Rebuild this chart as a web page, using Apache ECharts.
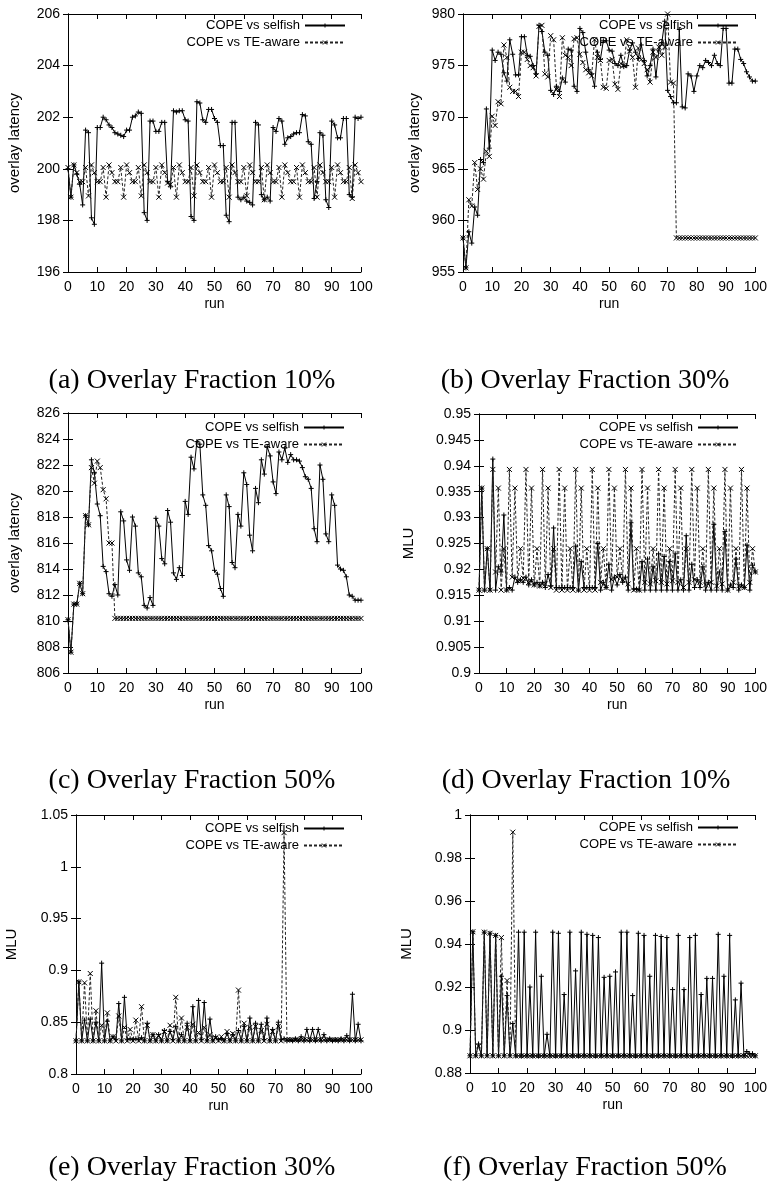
<!DOCTYPE html>
<html>
<head>
<meta charset="utf-8">
<title>COPE vs selfish / TE-aware</title>
<script src="https://cdn.jsdelivr.net/npm/echarts@6/dist/echarts.min.js"></script>
<style>
  html, body { margin: 0; padding: 0; background: #fff; }
  #chart { width: 770px; height: 1196px; }
</style>
</head>
<body>
<div id="chart"></div>
<script>
// x axis: run number 0..100
const runs = Array.from({ length: 101 }, (_, i) => i)
const seriesNames = ['COPE vs selfish', 'COPE vs TE-aware']
const captions = [
  '(a) Overlay Fraction 10%', '(b) Overlay Fraction 30%',
  '(c) Overlay Fraction 50%', '(d) Overlay Fraction 10%',
  '(e) Overlay Fraction 30%', '(f) Overlay Fraction 50%'
]

// (a) overlay latency, fraction 10%
const latency10Selfish = [
  200.0, 198.9, 200.15, 199.8, 199.4, 198.6, 201.5, 201.4, 198.1, 197.85,
  201.6, 201.6, 202.0, 201.9, 201.7, 201.6, 201.4, 201.35, 201.3, 201.25,
  201.5, 201.5, 202.0, 202.05, 202.2, 202.15, 198.3, 198.0, 201.85, 201.85,
  201.45, 201.45, 201.8, 201.8, 199.5, 199.3, 202.25, 202.2, 202.25, 202.25,
  201.9, 201.85, 198.15, 198.0, 202.6, 202.55, 201.9, 201.8, 202.3, 202.3,
  201.95, 201.8, 200.9, 200.9, 198.2, 197.95, 201.8, 201.8, 198.9, 198.8,
  198.9, 198.75, 198.7, 198.6, 201.8, 201.7, 199.0, 198.8, 198.9, 198.75,
  201.6, 201.45, 201.95, 201.85, 200.95, 201.2, 201.25, 201.35, 201.4, 201.4,
  202.1, 202.05, 201.05, 200.95, 198.85, 199.5, 201.4, 201.3, 198.8, 198.5,
  201.85, 201.7, 201.2, 201.2, 201.95, 201.95, 199.0, 198.9, 202.0, 201.95,
  202.0
]
const latency10TeAware = [
  200.05, 198.9, 200.15, 199.85, 199.5, 199.5, 200.05, 198.95, 200.15, 199.85,
  199.5, 199.5, 200.05, 198.9, 200.15, 199.85, 199.5, 199.5, 200.05, 198.9,
  200.15, 199.85, 199.5, 199.5, 200.05, 198.95, 200.15, 199.85, 199.5, 199.5,
  200.05, 198.9, 200.15, 199.85, 199.45, 199.4, 200.05, 198.9, 200.15, 199.85,
  199.5, 199.5, 200.05, 198.95, 200.15, 199.85, 199.5, 199.5, 200.05, 198.9,
  200.15, 199.85, 199.5, 199.5, 200.05, 198.9, 200.15, 199.85, 199.5, 199.5,
  200.05, 198.95, 200.15, 199.85, 199.5, 199.5, 200.05, 198.8, 200.15, 199.85,
  199.5, 199.5, 200.05, 198.9, 200.15, 199.85, 199.5, 199.5, 200.05, 198.9,
  200.15, 199.85, 199.5, 199.5, 200.05, 198.9, 200.15, 199.85, 199.5, 199.5,
  200.05, 198.9, 200.15, 199.85, 199.5, 199.5, 200.05, 198.85, 200.15, 199.85,
  199.5
]

// (b) overlay latency, fraction 30%
const latency30Selfish = [
  958.3, 955.4, 958.9, 957.8, 961.3, 960.5, 965.9, 965.6, 970.8, 967.0,
  976.5, 975.5, 976.3, 976.1, 974.3, 973.5, 977.5, 976.1, 974.1, 974.1,
  977.8, 977.8, 976.0, 975.9, 975.0, 974.2, 978.9, 978.3, 976.3, 976.0,
  972.6, 972.2, 973.0, 972.5, 973.8, 973.4, 976.6, 976.5, 973.0, 972.5,
  978.6, 978.2, 976.3, 974.6, 974.2, 973.0, 976.3, 975.6, 977.4, 977.4,
  976.5, 976.4, 975.2, 975.0, 976.0, 974.9, 975.0, 976.5, 977.2, 976.3,
  975.7, 977.0, 975.5, 974.0, 975.0, 976.6, 973.9, 976.5, 977.2, 979.3,
  972.6, 972.0, 971.4, 971.4, 978.5, 971.0, 970.9, 974.2, 974.0, 972.5,
  974.0, 975.0, 974.8, 975.5, 975.3, 975.0, 976.0, 975.2, 975.0, 978.6,
  978.6, 973.3, 973.3, 976.6, 976.6, 975.6, 975.2, 974.4, 973.9, 973.5,
  973.5
]
const latency30TeAware = [
  958.3, 955.4, 962.0, 961.4, 965.6, 963.0, 965.0, 964.0, 966.7, 966.2,
  970.1, 969.2, 971.5, 971.3, 977.0, 975.8, 972.9, 972.5, 972.5, 972.0,
  976.3, 976.3, 975.6, 975.0, 974.8, 974.0, 978.8, 978.9, 974.2, 973.9,
  977.9, 977.5, 972.7, 972.0, 977.7, 976.0, 975.8, 975.0, 977.6, 977.7,
  976.1, 975.3, 974.6, 974.3, 974.0, 977.5, 975.8, 975.5, 972.9, 972.8,
  975.5, 975.6, 973.2, 972.7, 975.2, 975.0, 977.5, 976.4, 975.8, 972.9,
  976.7, 975.6, 975.2, 974.6, 973.4, 976.3, 975.8, 976.8, 976.0, 976.8,
  980.0, 973.4, 973.3, 958.3, 958.3, 958.3, 958.3, 958.3, 958.3, 958.3,
  958.3, 958.3, 958.3, 958.3, 958.3, 958.3, 958.3, 958.3, 958.3, 958.3,
  958.3, 958.3, 958.3, 958.3, 958.3, 958.3, 958.3, 958.3, 958.3, 958.3,
  958.3
]

// (c) overlay latency, fraction 50%
const latency50Selfish = [
  810.1, 807.6, 811.3, 811.3, 812.9, 812.1, 818.1, 817.4, 822.4, 821.4,
  819.0, 818.1, 814.2, 813.8, 812.1, 811.9, 812.8, 812.0, 818.4, 817.7,
  814.7, 813.9, 818.0, 817.3, 813.7, 813.4, 811.2, 811.0, 811.8, 811.2,
  817.9, 817.3, 814.8, 814.4, 818.5, 817.6, 813.7, 813.2, 814.1, 813.5,
  819.2, 818.2, 822.6, 821.7, 823.8, 823.6, 819.7, 818.9, 815.8, 815.4,
  813.9, 813.6, 812.5, 811.9, 819.7, 818.8, 814.5, 814.1, 818.2, 817.3,
  821.4, 820.5, 816.6, 815.4, 820.2, 819.1, 822.4, 821.3, 823.4, 822.7,
  820.7, 819.8, 823.0, 822.4, 823.3, 822.2, 822.8, 822.4, 822.4, 822.3,
  821.8, 821.1, 820.9, 820.2, 817.1, 816.1, 822.0, 820.9, 816.7, 816.1,
  819.7, 818.9, 814.3, 814.0, 813.9, 813.4, 812.0, 811.9, 811.6, 811.6,
  811.6
]
const latency50TeAware = [
  810.1, 807.6, 811.3, 811.3, 812.9, 812.1, 818.1, 817.4, 821.8, 820.6,
  822.3, 821.8, 820.1, 819.4, 816.0, 816.0, 810.2, 810.2, 810.2, 810.2,
  810.2, 810.2, 810.2, 810.2, 810.2, 810.2, 810.2, 810.2, 810.2, 810.2,
  810.2, 810.2, 810.2, 810.2, 810.2, 810.2, 810.2, 810.2, 810.2, 810.2,
  810.2, 810.2, 810.2, 810.2, 810.2, 810.2, 810.2, 810.2, 810.2, 810.2,
  810.2, 810.2, 810.2, 810.2, 810.2, 810.2, 810.2, 810.2, 810.2, 810.2,
  810.2, 810.2, 810.2, 810.2, 810.2, 810.2, 810.2, 810.2, 810.2, 810.2,
  810.2, 810.2, 810.2, 810.2, 810.2, 810.2, 810.2, 810.2, 810.2, 810.2,
  810.2, 810.2, 810.2, 810.2, 810.2, 810.2, 810.2, 810.2, 810.2, 810.2,
  810.2, 810.2, 810.2, 810.2, 810.2, 810.2, 810.2, 810.2, 810.2, 810.2,
  810.2
]

// (d) MLU, fraction 10%
const mlu10Selfish = [
  0.916, 0.9357, 0.916, 0.924, 0.916, 0.9413, 0.916, 0.9205, 0.9195, 0.9305,
  0.916, 0.9165, 0.916, 0.9185, 0.9175, 0.918, 0.9175, 0.9185, 0.917, 0.918,
  0.917, 0.9175, 0.9168, 0.9175, 0.9165, 0.919, 0.9168, 0.928, 0.9165, 0.9165,
  0.9165, 0.9165, 0.9165, 0.9165, 0.9165, 0.9245, 0.916, 0.9215, 0.9165, 0.9165,
  0.9165, 0.9165, 0.9165, 0.925, 0.916, 0.9175, 0.9165, 0.921, 0.916, 0.9185,
  0.917, 0.919, 0.9175, 0.9185, 0.916, 0.929, 0.9162, 0.9162, 0.916, 0.9215,
  0.916, 0.922, 0.916, 0.9205, 0.916, 0.923, 0.916, 0.9225, 0.916, 0.9215,
  0.916, 0.923, 0.916, 0.918, 0.916, 0.9265, 0.916, 0.921, 0.9165, 0.918,
  0.9165, 0.9205, 0.916, 0.9175, 0.916, 0.9287, 0.916, 0.9195, 0.916, 0.9273,
  0.916, 0.917, 0.9165, 0.922, 0.916, 0.917, 0.9165, 0.9247, 0.916, 0.9208,
  0.9195
]
const mlu10TeAware = [
  0.916, 0.9357, 0.916, 0.924, 0.916, 0.9393, 0.9195, 0.9357, 0.916, 0.924,
  0.916, 0.9393, 0.9185, 0.9357, 0.9178, 0.924, 0.9183, 0.9393, 0.9175, 0.9357,
  0.917, 0.924, 0.9168, 0.9393, 0.9172, 0.9357, 0.9165, 0.924, 0.916, 0.9393,
  0.916, 0.9357, 0.916, 0.924, 0.916, 0.9393, 0.916, 0.9357, 0.916, 0.924,
  0.916, 0.9393, 0.916, 0.9357, 0.9175, 0.924, 0.9165, 0.9393, 0.918, 0.9357,
  0.9185, 0.924, 0.918, 0.9393, 0.9172, 0.9357, 0.916, 0.924, 0.916, 0.9393,
  0.9175, 0.9357, 0.9172, 0.924, 0.9178, 0.9393, 0.9175, 0.9357, 0.9172, 0.924,
  0.9178, 0.9393, 0.9175, 0.9357, 0.9165, 0.924, 0.9175, 0.9393, 0.918, 0.9357,
  0.9175, 0.924, 0.917, 0.9393, 0.9175, 0.9357, 0.9168, 0.924, 0.9172, 0.9393,
  0.916, 0.9357, 0.9175, 0.924, 0.9168, 0.9393, 0.9165, 0.9357, 0.9175, 0.924,
  0.9195
]

// (e) MLU, fraction 30%
const mlu30Selfish = [
  0.832, 0.889, 0.832, 0.852, 0.832, 0.853, 0.832, 0.850, 0.832, 0.907,
  0.832, 0.851, 0.832, 0.836, 0.833, 0.868, 0.832, 0.874, 0.833, 0.834,
  0.833, 0.834, 0.833, 0.835, 0.832, 0.849, 0.832, 0.838, 0.832, 0.838,
  0.832, 0.842, 0.832, 0.841, 0.833, 0.846, 0.832, 0.838, 0.832, 0.849,
  0.832, 0.865, 0.832, 0.871, 0.833, 0.869, 0.832, 0.853, 0.832, 0.836,
  0.833, 0.834, 0.832, 0.839, 0.832, 0.838, 0.832, 0.842, 0.832, 0.846,
  0.832, 0.854, 0.832, 0.849, 0.832, 0.848, 0.833, 0.854, 0.832, 0.843,
  0.832, 0.850, 0.833, 0.834, 0.832, 0.833, 0.832, 0.834, 0.832, 0.836,
  0.832, 0.843, 0.832, 0.843, 0.832, 0.843, 0.832, 0.838, 0.832, 0.834,
  0.832, 0.833, 0.832, 0.834, 0.832, 0.837, 0.832, 0.877, 0.832, 0.848,
  0.832
]
const mlu30TeAware = [
  0.832, 0.889, 0.832, 0.888, 0.832, 0.897, 0.832, 0.861, 0.832, 0.847,
  0.832, 0.859, 0.832, 0.836, 0.832, 0.856, 0.832, 0.845, 0.832, 0.843,
  0.832, 0.852, 0.832, 0.865, 0.832, 0.847, 0.832, 0.838, 0.832, 0.837,
  0.832, 0.841, 0.832, 0.847, 0.832, 0.874, 0.832, 0.854, 0.832, 0.845,
  0.832, 0.848, 0.832, 0.840, 0.832, 0.845, 0.832, 0.838, 0.832, 0.835,
  0.832, 0.836, 0.832, 0.841, 0.832, 0.839, 0.832, 0.881, 0.832, 0.849,
  0.832, 0.845, 0.832, 0.846, 0.832, 0.842, 0.832, 0.848, 0.832, 0.841,
  0.832, 0.846, 0.832, 1.033, 0.833, 0.833, 0.833, 0.833, 0.833, 0.833,
  0.833, 0.833, 0.833, 0.833, 0.833, 0.833, 0.833, 0.833, 0.833, 0.833,
  0.833, 0.833, 0.833, 0.833, 0.833, 0.833, 0.833, 0.833, 0.833, 0.833,
  0.833
]

// (f) MLU, fraction 50%
const mlu50Selfish = [
  0.888, 0.9457, 0.888, 0.8935, 0.888, 0.9455, 0.888, 0.945, 0.888, 0.944,
  0.888, 0.925, 0.888, 0.916, 0.888, 0.903, 0.888, 0.9455, 0.888, 0.9455,
  0.888, 0.920, 0.888, 0.9455, 0.888, 0.925, 0.888, 0.898, 0.888, 0.9455,
  0.888, 0.945, 0.888, 0.9165, 0.888, 0.9455, 0.888, 0.9275, 0.888, 0.9455,
  0.888, 0.9445, 0.888, 0.944, 0.888, 0.943, 0.888, 0.9245, 0.888, 0.925,
  0.888, 0.927, 0.888, 0.9455, 0.888, 0.9455, 0.888, 0.916, 0.888, 0.945,
  0.888, 0.944, 0.888, 0.925, 0.888, 0.944, 0.888, 0.9435, 0.888, 0.943,
  0.888, 0.9188, 0.888, 0.944, 0.888, 0.9188, 0.888, 0.943, 0.888, 0.944,
  0.888, 0.9165, 0.888, 0.924, 0.888, 0.924, 0.888, 0.9445, 0.888, 0.925,
  0.888, 0.944, 0.888, 0.914, 0.888, 0.9218, 0.888, 0.890, 0.889, 0.889,
  0.888
]
const mlu50TeAware = [
  0.888, 0.9457, 0.888, 0.8925, 0.888, 0.9455, 0.888, 0.945, 0.888, 0.944,
  0.888, 0.943, 0.888, 0.923, 0.888, 0.992, 0.888, 0.888, 0.888, 0.888,
  0.888, 0.888, 0.888, 0.888, 0.888, 0.888, 0.888, 0.888, 0.888, 0.888,
  0.888, 0.888, 0.888, 0.888, 0.888, 0.888, 0.888, 0.888, 0.888, 0.888,
  0.888, 0.888, 0.888, 0.888, 0.888, 0.888, 0.888, 0.888, 0.888, 0.888,
  0.888, 0.888, 0.888, 0.888, 0.888, 0.888, 0.888, 0.888, 0.888, 0.888,
  0.888, 0.888, 0.888, 0.888, 0.888, 0.888, 0.888, 0.888, 0.888, 0.888,
  0.888, 0.888, 0.888, 0.888, 0.888, 0.888, 0.888, 0.888, 0.888, 0.888,
  0.888, 0.888, 0.888, 0.888, 0.888, 0.888, 0.888, 0.888, 0.888, 0.888,
  0.888, 0.888, 0.888, 0.888, 0.888, 0.888, 0.888, 0.888, 0.888, 0.888,
  0.888
]

const sans = '"Liberation Sans", Arial, sans-serif'
const serif = '"Liberation Serif", "Times New Roman", serif'
const plusSymbol = 'path://M0,4H8M4,0V8'
const crossSymbol = 'path://M0,0L8,8M8,0L0,8'

// one entry per subplot: plot box, y scale, texts
const panels = [
  { grid: { left: 68, top: 14, width: 293, height: 258 }, yMin: 196, yMax: 206, yStep: 2,
    yName: 'overlay latency', yGap: 46, selfish: latency10Selfish, teAware: latency10TeAware,
    legend: { right: 424, top: 19 }, caption: [192, 381] },
  { grid: { left: 463, top: 14, width: 293, height: 258 }, yMin: 955, yMax: 980, yStep: 5,
    yName: 'overlay latency', yGap: 41, selfish: latency30Selfish, teAware: latency30TeAware,
    legend: { right: 31, top: 19 }, caption: [585, 381] },
  { grid: { left: 68, top: 413, width: 293, height: 260 }, yMin: 806, yMax: 826, yStep: 2,
    yName: 'overlay latency', yGap: 46, selfish: latency50Selfish, teAware: latency50TeAware,
    legend: { right: 425, top: 421 }, caption: [192, 781] },
  { grid: { left: 479, top: 414, width: 278, height: 259 }, yMin: 0.9, yMax: 0.95, yStep: 0.005,
    yName: 'MLU', yGap: 63, selfish: mlu10Selfish, teAware: mlu10TeAware,
    legend: { right: 31, top: 421 }, caption: [586, 781] },
  { grid: { left: 76, top: 815, width: 285, height: 259 }, yMin: 0.8, yMax: 1.05, yStep: 0.05,
    yName: 'MLU', yGap: 57, selfish: mlu30Selfish, teAware: mlu30TeAware,
    legend: { right: 425, top: 822 }, caption: [192, 1168] },
  { grid: { left: 470, top: 815, width: 286, height: 258 }, yMin: 0.88, yMax: 1, yStep: 0.02,
    yName: 'MLU', yGap: 56, selfish: mlu50Selfish, teAware: mlu50TeAware,
    legend: { right: 31, top: 821 }, caption: [585, 1168] }
]

const axisBase = {
  axisLine: { show: true, lineStyle: { color: '#000', width: 1 } },
  axisTick: { show: true, inside: true, length: 5, lineStyle: { color: '#000' } },
  splitLine: { show: false }
}
const labelStyle = { color: '#000', fontFamily: sans, fontSize: 14, margin: 8 }

const xAxes = []
const yAxes = []
const series = []

panels.forEach((p, k) => {
  xAxes.push({
    ...axisBase, type: 'value', gridIndex: k, position: 'bottom',
    min: 0, max: 100, interval: 10,
    axisLabel: labelStyle,
    name: 'run', nameLocation: 'middle', nameGap: 25,
    nameTextStyle: { color: '#000', fontFamily: sans, fontSize: 14 }
  })
  xAxes.push({
    ...axisBase, type: 'value', gridIndex: k, position: 'top',
    min: 0, max: 100, interval: 10, axisLabel: { show: false }
  })
  yAxes.push({
    ...axisBase, type: 'value', gridIndex: k, position: 'left',
    min: p.yMin, max: p.yMax, interval: p.yStep,
    axisLabel: { ...labelStyle, formatter: v => String(+v.toFixed(3)) },
    name: p.yName, nameLocation: 'middle', nameRotate: 90, nameGap: p.yGap,
    nameTextStyle: { color: '#000', fontFamily: sans, fontSize: 15 }
  })
  yAxes.push({
    ...axisBase, type: 'value', gridIndex: k, position: 'right',
    min: p.yMin, max: p.yMax, interval: p.yStep, axisLabel: { show: false }
  })

  series.push({
    name: seriesNames[0], type: 'line',
    xAxisIndex: k * 2, yAxisIndex: k * 2,
    data: p.selfish.map((v, i) => [runs[i], v]),
    symbol: plusSymbol, symbolSize: 5,
    lineStyle: { color: '#000', width: 1 },
    itemStyle: { color: '#000', borderColor: '#000', borderWidth: 1 }
  })
  series.push({
    name: seriesNames[1], type: 'line',
    xAxisIndex: k * 2, yAxisIndex: k * 2,
    data: p.teAware.map((v, i) => [runs[i], v]),
    symbol: crossSymbol, symbolSize: 5,
    lineStyle: { color: '#222', width: 1, type: [3, 2] },
    itemStyle: { color: '#000', borderColor: '#000', borderWidth: 1 }
  })
})

const chart = echarts.init(document.getElementById('chart'))
chart.setOption({
  animation: false,
  backgroundColor: '#fff',
  grid: panels.map(p => p.grid),
  xAxis: xAxes,
  yAxis: yAxes,
  legend: panels.map(p => ({
    data: seriesNames,
    orient: 'vertical',
    align: 'right',
    right: p.legend.right,
    top: p.legend.top,
    itemWidth: 40,
    itemHeight: 5,
    itemGap: 4,
    padding: 0,
    selectedMode: false,
    itemStyle: { borderWidth: 1 },
    textStyle: { color: '#000', fontFamily: sans, fontSize: 13 }
  })),
  graphic: panels.map((p, k) => ({
    type: 'text',
    x: p.caption[0],
    y: p.caption[1],
    style: {
      text: captions[k],
      font: '28px ' + serif,
      fill: '#000',
      align: 'center',
      verticalAlign: 'middle'
    }
  })),
  series
})
</script>
</body>
</html>
